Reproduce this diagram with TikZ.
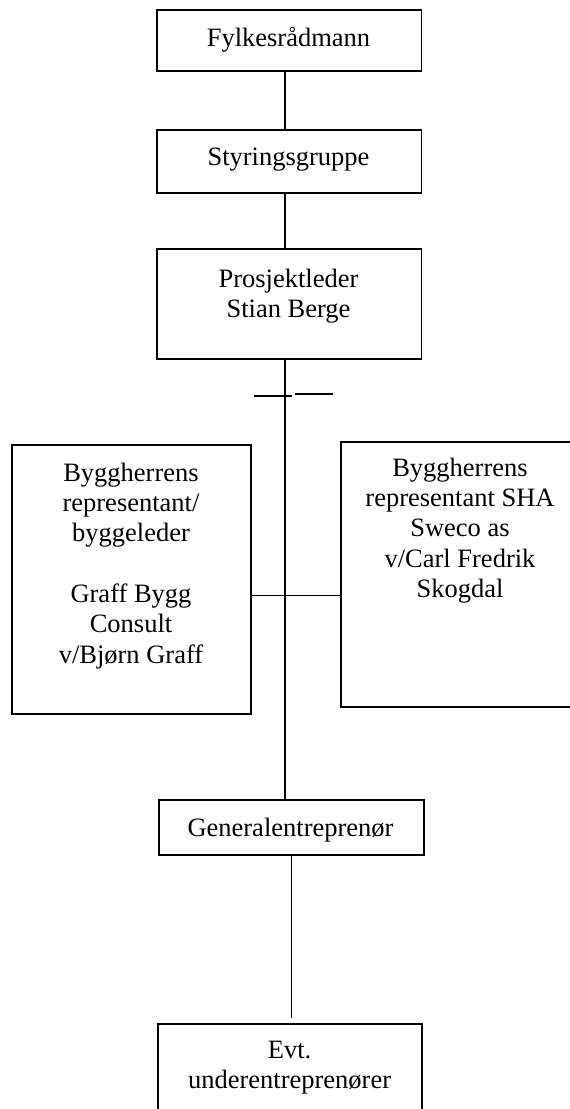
\documentclass[tikz,border=0pt]{standalone}
\usepackage{fontspec}
\setmainfont{Liberation Serif}
\begin{document}
\begin{tikzpicture}[x=1pt,y=-1pt,
  box/.style={draw=black, line width=1.3pt, inner sep=0pt, fill=none},
  txt/.style={anchor=north, inner sep=0pt, align=center, font=\fontsize{26.5pt}{30.3pt}\selectfont},
  conn/.style={line width=1.3pt, line cap=butt}]
\useasboundingbox (0,0) rectangle (570,1109);
% boxes
\node[box, minimum width=264.7pt, minimum height=61pt]  (fylk)  at (289.35,40.5)  {};
\node[box, minimum width=264.7pt, minimum height=63pt]  (styr)  at (289.35,161.5) {};
\node[box, minimum width=264.7pt, minimum height=110pt] (pros)  at (289.35,304)   {};
\node[box, minimum width=239pt,   minimum height=269pt] (left)  at (131.5,579.5)  {};
\node[box, minimum width=238pt,   minimum height=265pt] (right) at (460,574.5)    {};
\node[box, minimum width=265pt,   minimum height=55pt]  (gen)   at (291.5,827.5)  {};
\node[box, minimum width=264pt,   minimum height=106pt] (evt)   at (290,1077)     {};
% texts (north = first baseline - 0.7 baselineskip)
\node[txt] (tfylk)  at (288.5,24.8)  {\strut Fylkesrådmann};
\node[txt] (tstyr)  at (288.5,144.5) {\strut Styringsgruppe};
\node[txt] (tpros)  at (288.5,265.8) {\strut Prosjektleder\\Stian Berge};
\node[txt] (tleft)  at (131,459.8)   {\strut Byggherrens\\representant/\\byggeleder\\[30.3pt]Graff Bygg\\Consult\\v/Bjørn Graff};
\node[txt] (tright) at (460,454.8)   {\strut Byggherrens\\representant SHA\\Sweco as\\v/Carl Fredrik\\Skogdal};
\node[txt] (tgen)   at (290.5,814.8) {\strut Generalentreprenør};
\node[txt] (tevt)   at (289.6,1036.8) {\strut Evt.\\underentreprenører};
% connectors
\coordinate (spine) at (285,0);
\coordinate (hl) at (0,595.5);
\draw[conn] (fylk.south -| spine) -- (styr.north -| spine);
\draw[conn] (styr.south -| spine) -- (pros.north -| spine);
\draw[conn] (pros.south -| spine) -- (gen.north -| spine);
\draw[conn] (left.east |- hl) -- (right.west |- hl);
\coordinate (gx) at (291.7,0);
\draw[conn] (gen.south -| gx) -- ([yshift=5pt]evt.north -| gx);
% tick marks on the spine
\coordinate (tickL) at (254,396);
\coordinate (tickR) at (292,396);
\coordinate (dashL) at (295,394);
\coordinate (dashR) at (333,394);
\draw[conn] (tickL) -- (tickR);
\draw[conn] (dashL) -- (dashR);
\end{tikzpicture}
\end{document}
